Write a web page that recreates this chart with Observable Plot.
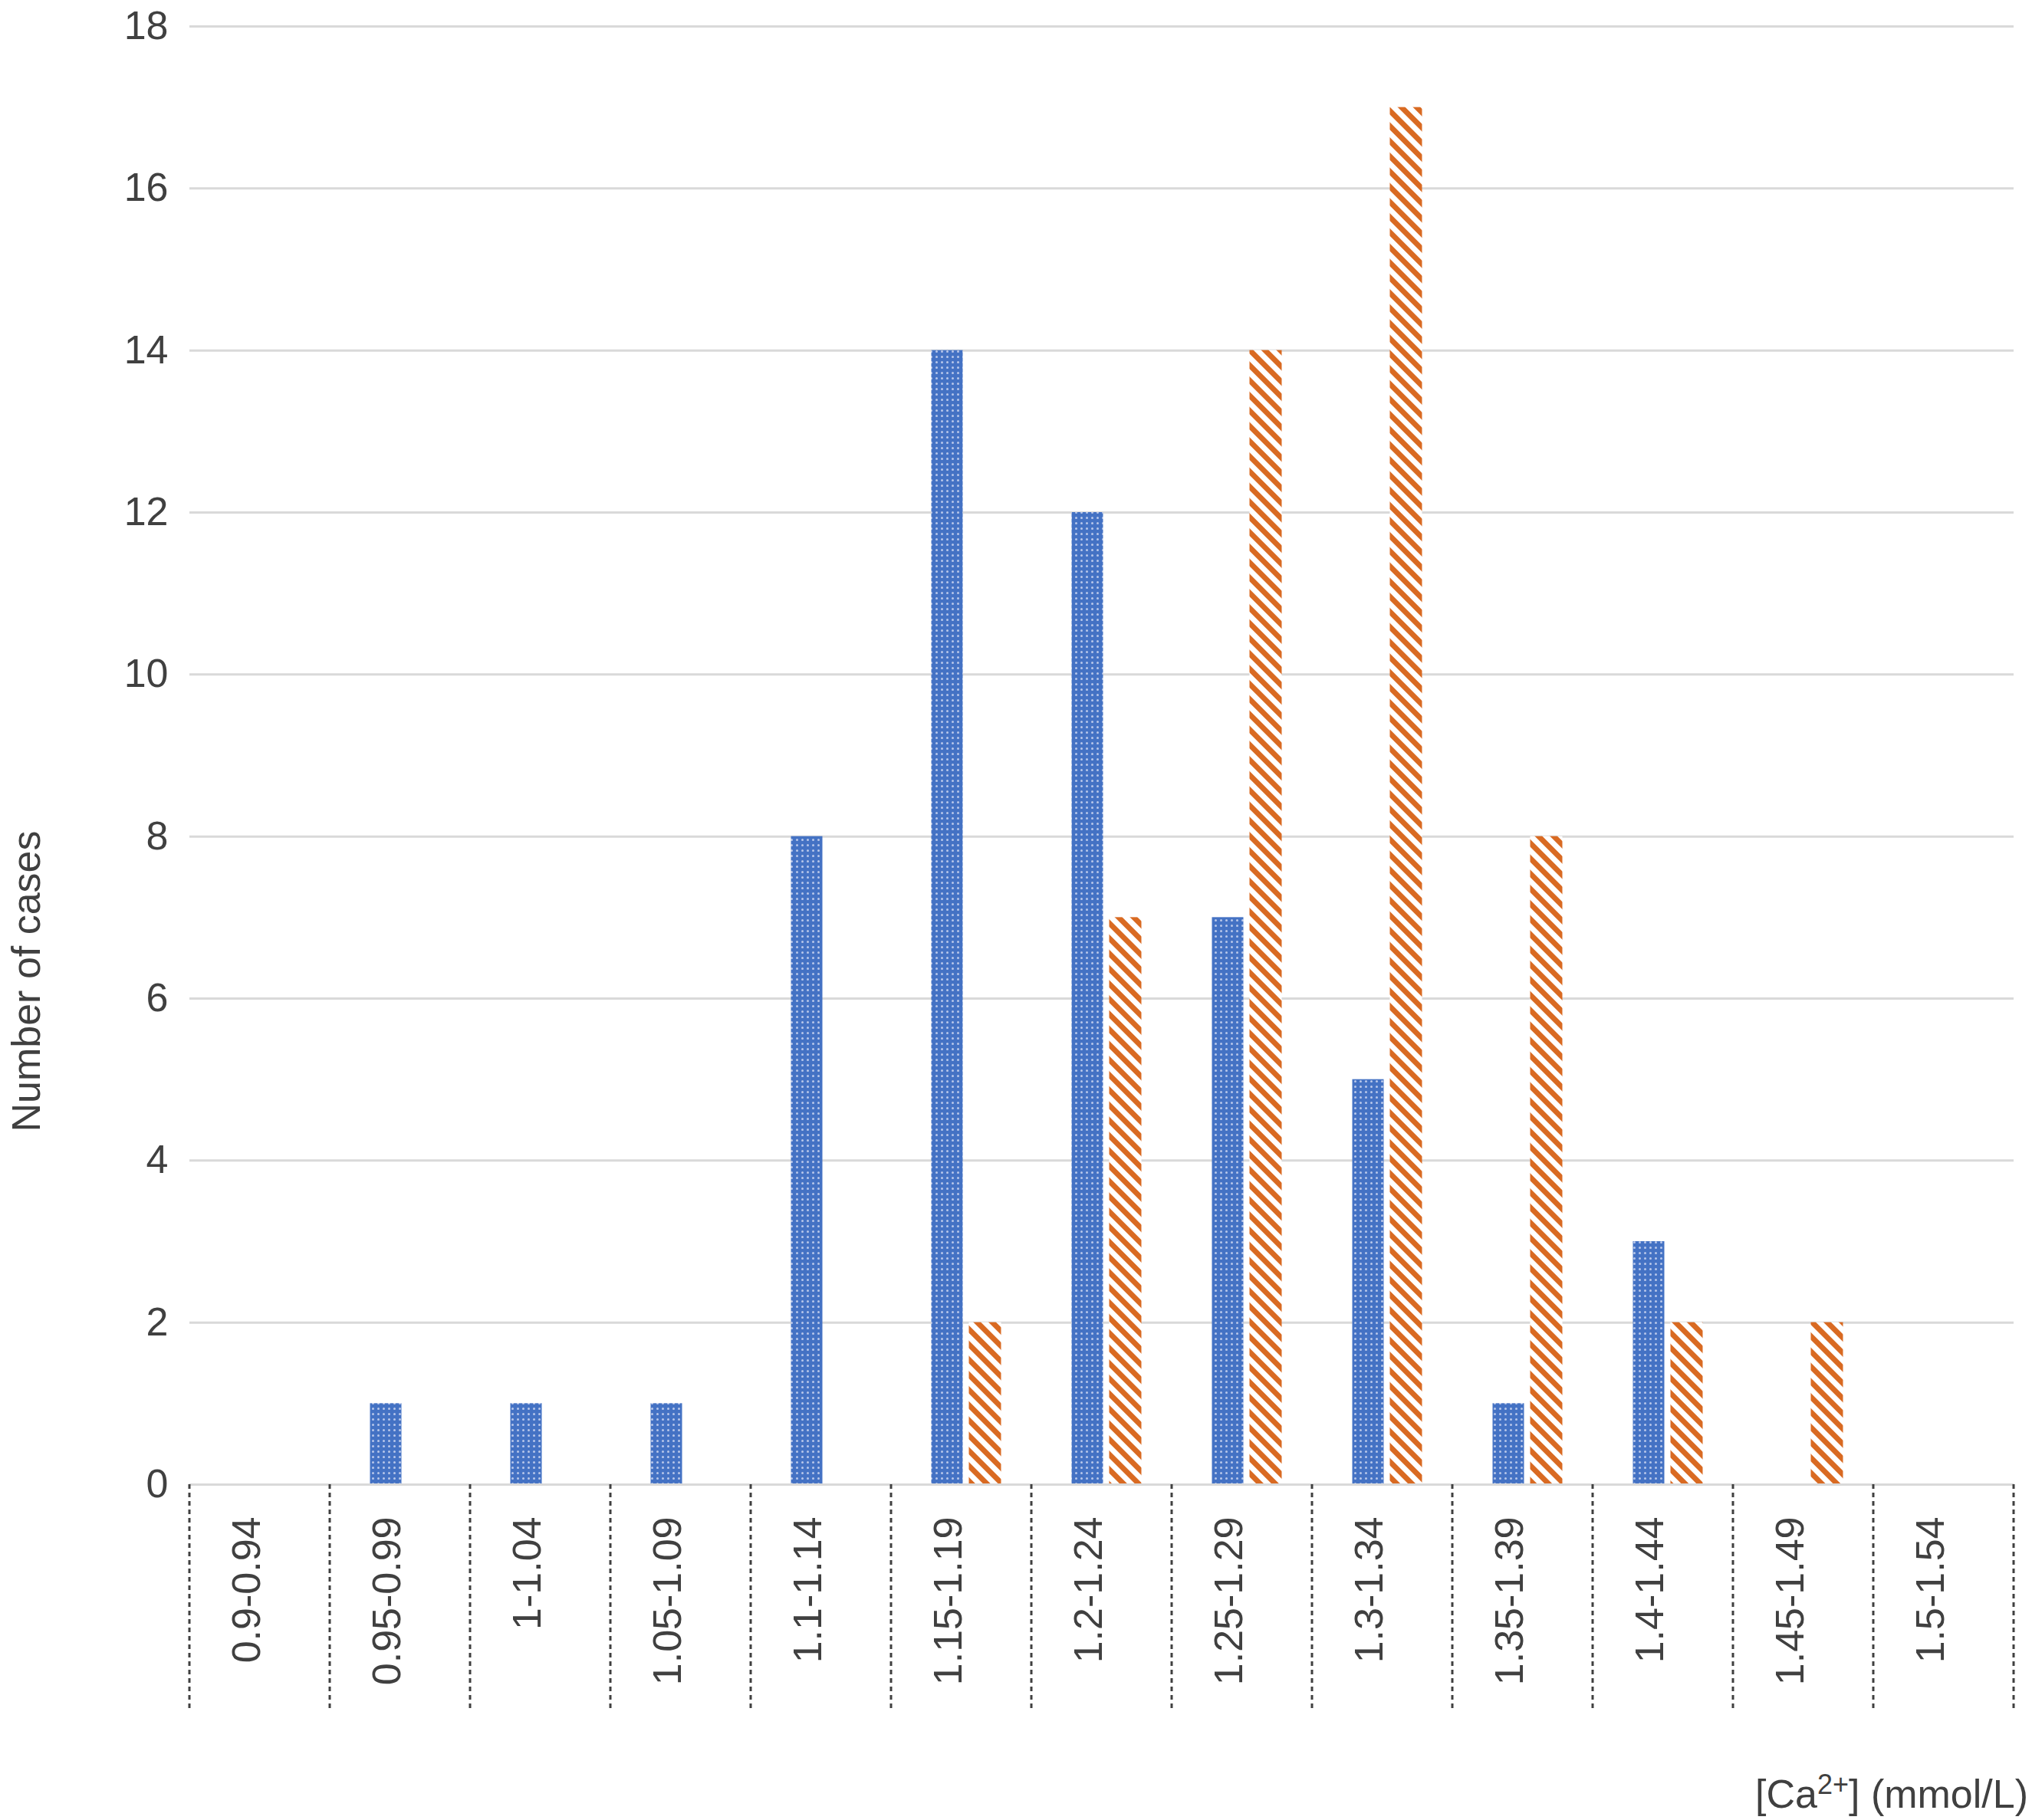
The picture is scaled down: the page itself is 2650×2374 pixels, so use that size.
<!DOCTYPE html>
<html><head><meta charset="utf-8">
<script src="https://cdn.jsdelivr.net/npm/d3@7"></script>
<script src="https://cdn.jsdelivr.net/npm/@observablehq/plot@0.6"></script>
<style>body{margin:0;background:#fff;font-family:"Liberation Sans",Arial,sans-serif}</style>
</head><body><div id="chart"></div>
<script>
const categories = ["0.9-0.94","0.95-0.99","1-1.04","1.05-1.09","1.1-1.14","1.15-1.19","1.2-1.24","1.25-1.29","1.3-1.34","1.35-1.39","1.4-1.44","1.45-1.49","1.5-1.54"];
const seriesA = [0,1,1,1,8,14,12,7,5,1,3,0,0];
const seriesB = [0,0,0,0,0,2,7,14,17,8,2,2,0];
const yTicks = [0,2,4,6,8,10,12,14,16,18];

const dataA = categories.map((c,i)=>({cat:c,v:seriesA[i]})).filter(d=>d.v>0);
const dataB = categories.map((c,i)=>({cat:c,v:seriesB[i]})).filter(d=>d.v>0);

const W=2650,H=2374,ml=247,mr=24,mt=34,mb=438;
const band=(W-ml-mr)/categories.length;

const plot = Plot.plot({
  width:W,height:H,marginLeft:ml,marginRight:mr,marginTop:mt,marginBottom:mb,
  style:{fontFamily:"'Liberation Sans',Arial,sans-serif",fontSize:"52px",color:"#404040",background:"#fff"},
  x:{domain:categories,padding:0,axis:null},
  y:{domain:[0,18],ticks:yTicks,label:null},
  marks:[
    Plot.gridY(yTicks,{stroke:"#d9d9d9",strokeOpacity:1,strokeWidth:3}),
    Plot.axisY(yTicks,{tickSize:0,tickPadding:28,fontSize:52,fill:"#404040",label:null,tickFormat:d3.format("d")}),
    Plot.barY(dataA,{x:"cat",y:"v",fill:"url(#dots)",insetLeft:band/2-39,insetRight:band/2-2}),
    Plot.barY(dataB,{x:"cat",y:"v",fill:"url(#stripes)",insetLeft:band/2+10,insetRight:band/2-52}),
    Plot.ruleY([0],{stroke:"#d9d9d9",strokeWidth:3}),
    Plot.text(categories,{x:d=>d,frameAnchor:"bottom",dy:42,rotate:-90,textAnchor:"end",fontSize:52,fill:"#404040"})
  ]
});
const svg=d3.select(plot);
const defs=svg.insert("defs",":first-child");
const p1=defs.append("pattern").attr("id","dots").attr("patternUnits","userSpaceOnUse").attr("width",7).attr("height",7);
p1.append("rect").attr("width",7).attr("height",7).attr("fill","#4472C4");
p1.append("circle").attr("cx",3.5).attr("cy",3.5).attr("r",1.5).attr("fill","#b8c7ea");
const p2=defs.append("pattern").attr("id","stripes").attr("patternUnits","userSpaceOnUse").attr("width",14).attr("height",14).attr("patternTransform","rotate(-45)");
p2.append("rect").attr("width",14).attr("height",14).attr("fill","#fff");
p2.append("rect").attr("width",7).attr("height",14).attr("fill","#D96A22");
const bounds=categories.map((c,i)=>ml+i*band).concat([W-mr]);
svg.append("g").selectAll("line").data(bounds).join("line")
  .attr("x1",d=>d).attr("x2",d=>d).attr("y1",H-mb).attr("y2",H-mb+296)
  .attr("stroke","#404040").attr("stroke-width",3).attr("stroke-dasharray","6,5");
svg.append("text").attr("transform","translate(52,1280) rotate(-90)").attr("text-anchor","middle")
  .attr("font-size",52).attr("fill","#404040").text("Number of cases");
const t=svg.append("text").attr("x",W-5).attr("y",2358).attr("text-anchor","end").attr("font-size",52).attr("fill","#404040");
t.append("tspan").text("[Ca");
t.append("tspan").attr("dy",-18).attr("font-size",36).text("2+");
t.append("tspan").attr("dy",18).text("] (mmol/L)");
document.getElementById("chart").appendChild(plot);
</script></body></html>
